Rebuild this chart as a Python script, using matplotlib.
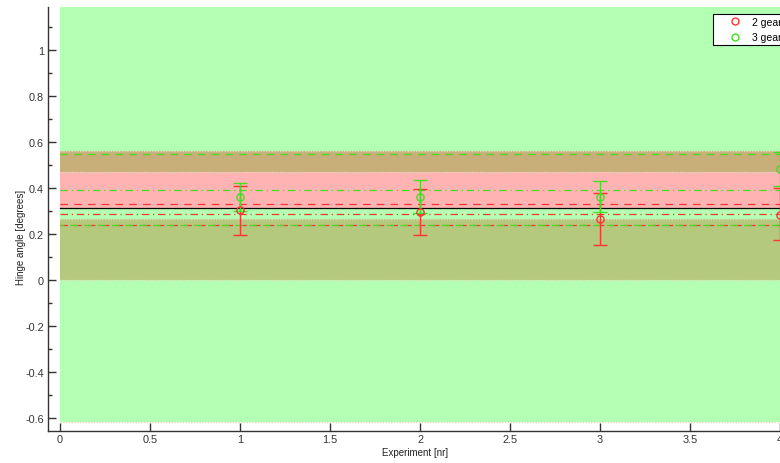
import matplotlib
matplotlib.use("Agg")
import matplotlib.pyplot as plt
from matplotlib.lines import Line2D

plt.rcParams['font.family'] = ['Liberation Sans', 'DejaVu Sans']
plt.rcParams['axes.unicode_minus'] = False

# ---- data ----
experiments = [1, 2, 3, 4]
gear2_mean = [0.304, 0.297, 0.264, 0.284]
gear2_lo = [0.194, 0.194, 0.152, 0.173]
gear2_hi = [0.407, 0.397, 0.377, 0.399]
gear3_mean = [0.362, 0.360, 0.362, 0.484]
gear3_lo = [0.300, 0.290, 0.296, 0.410]
gear3_hi = [0.423, 0.433, 0.429, 0.558]
series_labels = ['2 gears', '3 gears']

# band limits (bottom, top) and colours
bands = [(-0.617, 1.19), (0.0, 0.267), (0.313, 0.470), (0.470, 0.562)]
band_colors = ['#b3ffb3', '#b4c87e', '#ffb3b3', '#c8ae78']
band_edges = [-0.617, 0.0, 0.267, 0.313, 0.470, 0.562]

# reference lines
ref_values = [0.548, 0.391, 0.330, 0.313, 0.287, 0.239, 0.239]
ref_colors = ['#44dd22', '#44dd22', '#ff3333', '#000000', '#ff3333', '#ff3333', '#44dd22']
ref_styles = [(0, (6, 5)), (0, (6, 3, 1, 3)), (0, (6, 5)), '-', (0, (6, 3, 1, 3)), (0, (6, 5)), (3, (6, 5))]

xlim = (-0.0667, 4.0667)
ylim = (-0.657, 1.187)
x_span = (0, 4.5)

fig = plt.figure(figsize=(7.8, 4.64), dpi=100)
ax = fig.add_axes([48 / 780, 32 / 464, 744 / 780, 424 / 464])

for (b, t), c in zip(bands, band_colors):
    ax.fill_between(x_span, [b, b], [t, t], color=c, lw=0, zorder=1)
for e in band_edges:
    ax.plot(x_span, [e, e], color='#dcdcb4', lw=1.0, ls=(0, (1, 1)), zorder=1.5)

for v, c, s in zip(ref_values, ref_colors, ref_styles):
    ax.plot(x_span, [v, v], color=c, ls=s, lw=0.9, zorder=2)

g2_err = [[m - lo for m, lo in zip(gear2_mean, gear2_lo)],
          [hi - m for m, hi in zip(gear2_mean, gear2_hi)]]
g3_err = [[m - lo for m, lo in zip(gear3_mean, gear3_lo)],
          [hi - m for m, hi in zip(gear3_mean, gear3_hi)]]

red = '#ff3333'
green = '#44dd22'
ax.errorbar(experiments, gear2_mean, yerr=g2_err, fmt='o', mfc='none', mec=red,
            ecolor=red, ms=5.2, mew=1.0, elinewidth=1.0, capsize=5, capthick=1.0, zorder=3)
ax.errorbar(experiments, gear3_mean, yerr=g3_err, fmt='o', mfc='none', mec=green,
            ecolor=green, ms=5.2, mew=1.0, elinewidth=1.0, capsize=5, capthick=1.0, zorder=3)

ax.set_xlim(*xlim)
ax.set_ylim(*ylim)
ax.spines['top'].set_visible(False)
ax.spines['right'].set_visible(False)
for s in ['left', 'bottom']:
    ax.spines[s].set_color('#333333')
    ax.spines[s].set_linewidth(1.0)

xt = [0, 0.5, 1, 1.5, 2, 2.5, 3, 3.5, 4]
ax.set_xticks(xt)
ax.set_xticklabels(['0', '0.5', '1', '1.5', '2', '2.5', '3', '3.5', '4'])
yt = [-0.6, -0.4, -0.2, 0, 0.2, 0.4, 0.6, 0.8, 1]
ax.set_yticks(yt)
ax.set_yticklabels(['-0.6', '-0.4', '-0.2', '0', '0.2', '0.4', '0.6', '0.8', '1'])
ax.set_yticks([-0.5, -0.3, -0.1, 0.1, 0.3, 0.5, 0.7, 0.9, 1.1], minor=True)
ax.tick_params(axis='both', which='major', direction='in', length=6, width=1,
               labelsize=7.8, colors='#333333', labelcolor='#333333')
ax.tick_params(axis='y', which='minor', direction='in', length=3, width=1, colors='#333333')
ax.tick_params(axis='x', pad=2)
ax.tick_params(axis='y', pad=3)

ax.set_xlabel('Experiment [nr]', fontsize=7, color='#222222')
ax.set_ylabel('Hinge angle [degrees]', fontsize=7, color='#222222')
ax.xaxis.set_label_coords(0.493, -0.038)
ax.yaxis.set_label_coords(-0.03, 0.458)

handles = [Line2D([], [], ls='none', marker='o', mfc='none', mec=red, ms=5, mew=1.0),
           Line2D([], [], ls='none', marker='o', mfc='none', mec=green, ms=5, mew=1.0)]
leg = ax.legend(handles, series_labels, loc='upper left', bbox_to_anchor=(0.894, 0.9835),
                fontsize=7.5, frameon=True, fancybox=False, edgecolor='#000000',
                facecolor='white', framealpha=1, handlelength=3.7, handletextpad=-0.2,
                borderpad=0.25, labelspacing=0.54, borderaxespad=0)
leg.get_frame().set_linewidth(0.8)

fig.savefig('out.png', dpi=100)
